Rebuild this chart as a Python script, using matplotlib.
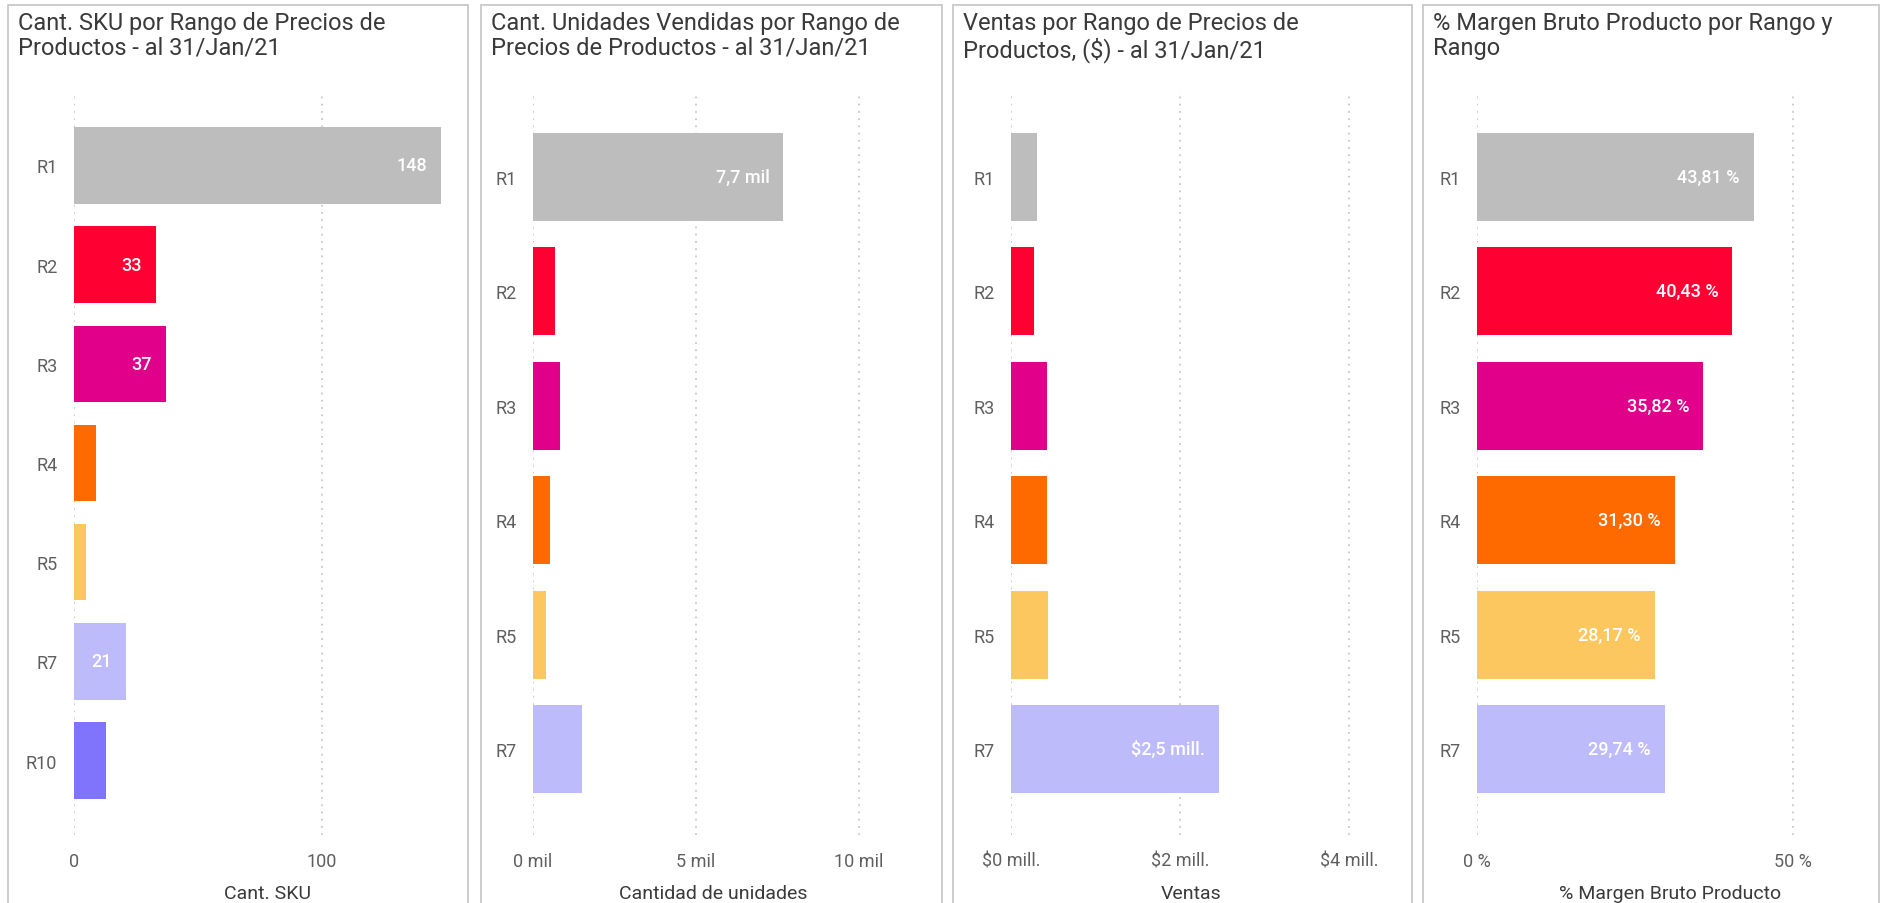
import matplotlib
matplotlib.use('Agg')
import matplotlib.pyplot as plt
from matplotlib.patches import Rectangle

plt.rcParams['font.family'] = ['Roboto', 'DejaVu Sans']

rangos_sku = ['R1', 'R2', 'R3', 'R4', 'R5', 'R7', 'R10']
cant_sku = [148, 33, 37, 9, 5, 21, 13]

rangos = ['R1', 'R2', 'R3', 'R4', 'R5', 'R7']
unidades = [7680, 670, 830, 510, 400, 1500]
ventas = [310000, 270000, 420000, 420000, 440000, 2460000]
margen = [43.81, 40.43, 35.82, 31.30, 28.17, 29.74]

colores = {'R1': '#BDBDBD', 'R2': '#FF0033', 'R3': '#E0008A', 'R4': '#FF6A00',
           'R5': '#FDC760', 'R7': '#BEBBFA', 'R10': '#7F74FB'}

titulos = ['Cant. SKU por Rango de Precios de\nProductos - al 31/Jan/21',
           'Cant. Unidades Vendidas por Rango de\nPrecios de Productos - al 31/Jan/21',
           'Ventas por Rango de Precios de\nProductos, ($) - al 31/Jan/21',
           '% Margen Bruto Producto por Rango y\nRango']
ejes_x = ['Cant. SKU', 'Cantidad de unidades', 'Ventas', '% Margen Bruto Producto']


def fmt_sku(v):
    return f'{v:.0f}'


def fmt_mil(v):
    return f'{v / 1000:.1f} mil'.replace('.', ',').replace(',0 mil', ' mil')


def fmt_mill(v):
    return f'${v / 1e6:.1f} mill.'.replace('.', ',', 1).replace(',0 mill', ' mill')


def fmt_pct(v):
    return f'{v:.2f} %'.replace('.', ',')


W, H = 1880, 904
fig = plt.figure(figsize=(W / 100, H / 100), dpi=100)

# paneles: borde (izq, der), eje (izq, der), limite x, ticks, etiquetas ticks
paneles = [
    (8, 468, 74, 462, 156.5, [0, 100], ['0', '100'], rangos_sku, cant_sku, fmt_sku),
    (481, 942, 533, 893, 11040, [0, 5000, 10000], ['0 mil', '5 mil', '10 mil'], rangos, unidades, fmt_mil),
    (953, 1412, 1011, 1372, 4.27e6, [0, 2e6, 4e6], ['$0 mill.', '$2 mill.', '$4 mill.'], rangos, ventas, fmt_mill),
    (1423, 1879, 1477, 1863, 61.1, [0, 50], ['0 %', '50 %'], rangos, margen, fmt_pct),
]

y_top, y_bot = 92, 836
etiquetas = []
for i, (bl, br, al, ar, xmax, ticks, tlabels, cats, vals, fmt) in enumerate(paneles):
    fig.patches.append(Rectangle((bl / W, -0.02), (br - bl) / W, 1.02 - 6 / H,
                                 transform=fig.transFigure, fill=False,
                                 edgecolor='#C8C8C8', linewidth=1.3))
    fig.text((bl + 10) / W, 1 - 12 / H, titulos[i], ha='left', va='top',
             fontsize=17, color='#3A3A3A', linespacing=1.1)

    ax = fig.add_axes([al / W, 1 - y_bot / H, (ar - al) / W, (y_bot - y_top) / H])
    pos = list(range(len(cats)))
    ax.barh(pos, vals, height=0.77, color=[colores[c] for c in cats], zorder=2)
    ax.set_ylim(len(cats) - 0.25, -0.75)
    ax.set_xlim(0, xmax)
    ax.set_yticks(pos)
    ax.set_yticklabels(cats)
    ax.set_xticks(ticks)
    ax.set_xticklabels(tlabels)
    ax.tick_params(axis='both', length=0, labelsize=13, labelcolor='#5F5F5F')
    ax.tick_params(axis='y', pad=12)
    ax.tick_params(axis='x', pad=12)
    for s in ax.spines.values():
        s.set_visible(False)
    ax.grid(axis='x', linestyle=(0, (1, 3)), color='#C8C8C8', linewidth=1.3, zorder=0)
    ax.set_axisbelow(True)
    ax.set_xlabel(ejes_x[i], fontsize=14, color='#3A3A3A', labelpad=10)

    px_por_unidad = (ar - al) / xmax
    for p, v in zip(pos, vals):
        t = ax.text(v - 14 / px_por_unidad, p, fmt(v), ha='right', va='center',
                    fontsize=13, color='white', fontweight='medium', zorder=3)
        etiquetas.append((t, v * px_por_unidad))

# quitar etiquetas que no caben dentro de la barra
fig.canvas.draw()
r = fig.canvas.get_renderer()
for t, ancho in etiquetas:
    if t.get_window_extent(r).width + 24 > ancho:
        t.remove()

fig.savefig('out.png', dpi=100, facecolor='white')
